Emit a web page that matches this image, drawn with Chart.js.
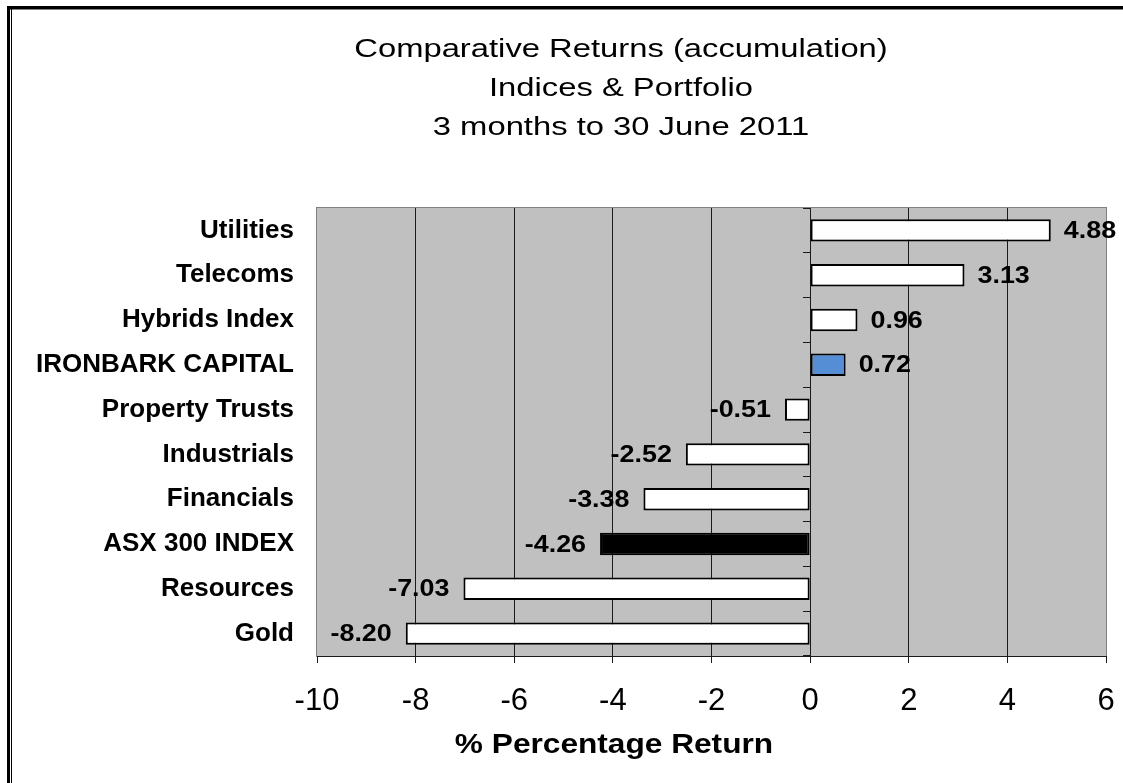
<!DOCTYPE html>
<html>
<head>
<meta charset="utf-8">
<script src="https://cdn.jsdelivr.net/npm/chart.js@4.4.1/dist/chart.umd.min.js"></script>
<style>
  html, body { margin: 0; padding: 0; background: #ffffff; }
  #wrap { position: relative; width: 1123px; height: 783px; }
  canvas { display: block; }
</style>
</head>
<body>
<div id="wrap"><canvas id="chart" width="1123" height="783"></canvas></div>
<script>
// ---- data ----
const categories = [
  'Utilities', 'Telecoms', 'Hybrids Index', 'IRONBARK CAPITAL', 'Property Trusts',
  'Industrials', 'Financials', 'ASX 300 INDEX', 'Resources', 'Gold'
];
const returns = [4.88, 3.13, 0.96, 0.72, -0.51, -2.52, -3.38, -4.26, -7.03, -8.20];
const barColors = ['#FFFFFF', '#FFFFFF', '#FFFFFF', '#558ED5', '#FFFFFF',
                   '#FFFFFF', '#FFFFFF', '#000000', '#FFFFFF', '#FFFFFF'];
const xTicks = [-10, -8, -6, -4, -2, 0, 2, 4, 6];
const titleLines = ['Comparative Returns (accumulation)', 'Indices & Portfolio', '3 months to 30 June 2011'];
const xAxisTitle = '% Percentage Return';

// ---- styling ----
const FONT = "'Liberation Sans', Arial, Helvetica, sans-serif";

function drawStretched(ctx, text, x, y, font, sx, align) {
  ctx.save();
  ctx.font = font;
  ctx.textBaseline = 'middle';
  ctx.textAlign = align;
  ctx.translate(x, y);
  ctx.scale(sx, 1);
  ctx.fillText(text, 0, 0);
  ctx.restore();
}

const pageDecor = {
  id: 'pageDecor',
  beforeDraw(chart) {
    const { ctx, chartArea: a, width, height } = chart;
    ctx.save();
    ctx.fillStyle = '#FFFFFF';
    ctx.fillRect(0, 0, width, height);
    // page frame (left double line + top line)
    ctx.fillStyle = '#000000';
    ctx.fillRect(7, 6, 3, height - 6);
    ctx.fillRect(7, 6, width - 7, 3);
    ctx.fillStyle = '#808080';
    ctx.fillRect(10, 9, width - 10, 1);
    ctx.fillStyle = '#000000';
    ctx.fillRect(11, 9, 1, height - 9);
    // plot area
    ctx.fillStyle = '#C0C0C0';
    ctx.fillRect(a.left, a.top, a.right - a.left, a.bottom - a.top);
    ctx.strokeStyle = '#808080';
    ctx.lineWidth = 1;
    ctx.strokeRect(a.left - 0.5, a.top - 0.5, a.right - a.left + 1, a.bottom - a.top + 1);
    ctx.restore();
  }
};

const textLayer = {
  id: 'textLayer',
  afterDatasetsDraw(chart) {
    const ctx = chart.ctx;
    const meta = chart.getDatasetMeta(0);
    ctx.save();
    ctx.fillStyle = '#000000';
    meta.data.forEach((bar, i) => {
      const v = returns[i];
      const txt = v.toFixed(2);
      if (v >= 0) {
        drawStretched(ctx, txt, bar.x + 13, bar.y + 1, 'bold 24px ' + FONT, 1.12, 'left');
      } else {
        drawStretched(ctx, txt, bar.x - 14, bar.y + 1, 'bold 24px ' + FONT, 1.12, 'right');
      }
    });
    ctx.restore();
  },
  afterDraw(chart) {
    const ctx = chart.ctx;
    ctx.save();
    ctx.fillStyle = '#000000';
    const ys = [50, 89, 128];
    titleLines.forEach((t, i) => drawStretched(ctx, t, 621, ys[i], '26px ' + FONT, 1.26, 'center'));
    drawStretched(ctx, xAxisTitle, 614, 745, 'bold 28px ' + FONT, 1.13, 'center');
    ctx.restore();
  }
};

new Chart(document.getElementById('chart'), {
  type: 'bar',
  data: {
    labels: categories,
    datasets: [{
      data: returns,
      backgroundColor: barColors,
      borderColor: '#000000',
      borderWidth: 2,
      borderSkipped: false,
      barPercentage: 0.5,
      categoryPercentage: 1.0
    }]
  },
  options: {
    indexAxis: 'y',
    responsive: false,
    maintainAspectRatio: false,
    animation: false,
    devicePixelRatio: 1,
    layout: { padding: { top: 208, right: 17, left: 0, bottom: 0 } },
    plugins: {
      legend: { display: false },
      tooltip: { enabled: false },
      title: { display: false }
    },
    scales: {
      x: {
        type: 'linear',
        position: 'bottom',
        min: -10,
        max: 6,
        afterBuildTicks: (s) => { s.ticks = xTicks.map(v => ({ value: v })); },
        afterFit: (s) => { s.height = 127; s.paddingLeft = 0; s.paddingRight = 0; },
        ticks: {
          font: { family: FONT, size: 31 },
          color: '#000000',
          padding: 20,
          maxRotation: 0
        },
        grid: {
          color: (c) => (c.tick && (c.tick.value === -10 || c.tick.value === 6)) ? 'rgba(0,0,0,0)' : '#1a1a1a',
          tickColor: '#1a1a1a',
          tickLength: 7,
          lineWidth: 1
        },
        border: { display: true, color: '#1a1a1a', width: 1 }
      },
      y: {
        type: 'category',
        position: 'left',
        afterFit: (s) => { s.width = 317; },
        grid: { display: false, drawTicks: false },
        border: { display: false },
        ticks: {
          font: { family: FONT, size: 26, weight: 'bold' },
          color: '#000000',
          padding: 23
        }
      },
      y2: {
        type: 'category',
        axis: 'y',
        position: { x: 0 },
        offset: true,
        grid: { display: true, drawOnChartArea: false, offset: true, tickColor: '#1a1a1a', tickLength: 7, lineWidth: 1 },
        border: { display: true, color: '#1a1a1a', width: 1 },
        ticks: { display: false }
      }
    }
  },
  plugins: [pageDecor, textLayer]
});
</script>
</body>
</html>
